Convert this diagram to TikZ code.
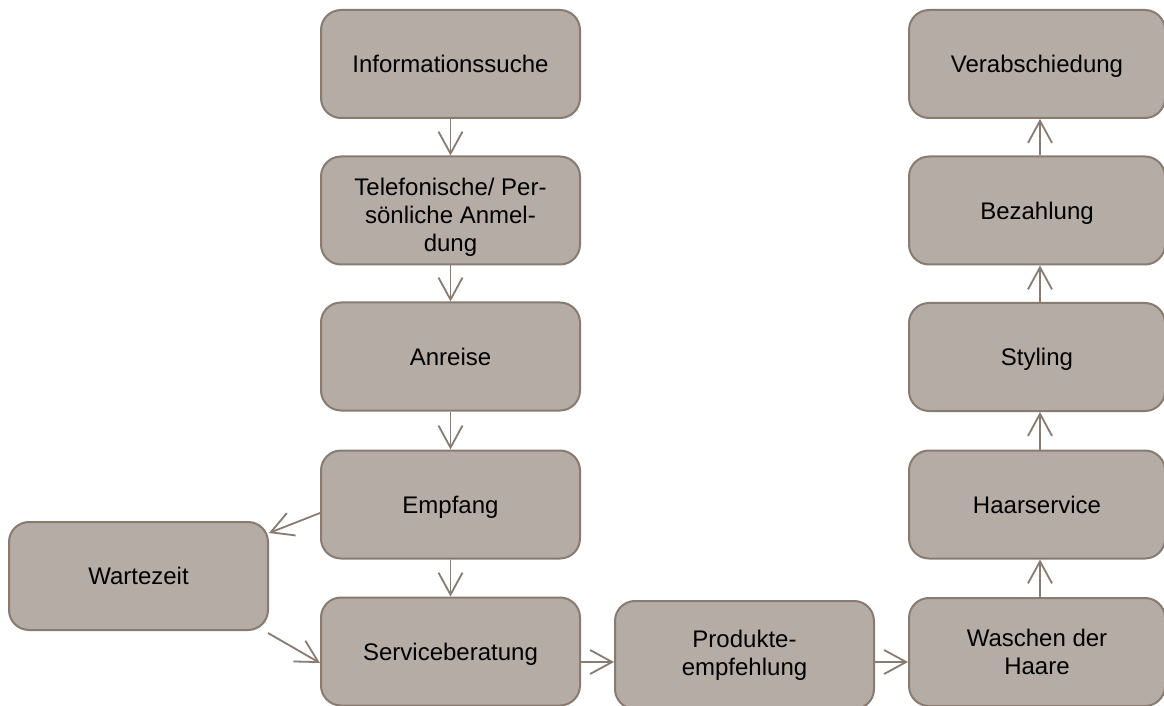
\documentclass[tikz,border=0pt]{standalone}
\usepackage{fontspec}
\setmainfont{Liberation Sans}
\usetikzlibrary{arrows.meta,calc}
\definecolor{boxfill}{HTML}{B5ACA5}
\definecolor{boxline}{HTML}{877B72}
\tikzset{
  stepbox/.style={draw=boxline, line width=1pt, fill=boxfill, rounded corners=10pt,
    minimum width=129.5pt, minimum height=54pt, inner sep=0pt, align=center,
    font=\fontsize{12pt}{14pt}\selectfont, text=black},
  oneline/.style={stepbox, text height=8.6pt, text depth=0pt},
  flow/.style={draw=boxline, line width=0.9pt,
    -{Straight Barb[length=11pt,width=12pt,line width=0.9pt]}},
}
\begin{document}
\begin{tikzpicture}[x=0.5pt,y=-0.5pt]
\path[use as bounding box] (0,0) rectangle (1164,706);
\clip (0,0) rectangle (1164,706);
% left column
\node[oneline] (info) at (450.5,64) {Informationssuche};
\node[stepbox] (tel) at (450.5,210.5) {\rule{0pt}{15pt}Telefonische/ Per-\\sönliche Anmel-\\dung};
\node[oneline] (anr) at (450.5,356.5) {Anreise};
\node[oneline] (emp) at (450.5,504.5) {Empfang};
\node[oneline] (sv) at (450.5,651.5) {Serviceberatung};
\node[oneline] (wz) at (138.5,576) {Wartezeit};
\node[stepbox] (pe) at (744.5,655) {Produkte-\\empfehlung};
% right column
\node[oneline, minimum width=128pt] (ver) at (1037,64) {Verabschiedung};
\node[oneline, minimum width=128pt] (bez) at (1037,210.5) {Bezahlung};
\node[oneline, minimum width=128pt] (sty) at (1037,357) {Styling};
\node[oneline, minimum width=128pt] (haa) at (1037,504.5) {Haarservice};
\node[stepbox, minimum width=128pt] (wa) at (1037,652) {Waschen der\\Haare};
% connectors
\draw[flow] (info.south) -- (tel.north);
\draw[flow] (tel.south) -- (anr.north);
\draw[flow] (anr.south) -- (emp.north);
\draw[flow] (emp.south) -- (sv.north);
\draw[flow] ($(emp.west)+(0,8.5)$) -- ($(wz.north east)+(0,12)$);
\draw[flow] ($(wz.south east)+(-1,2)$) -- ($(sv.west)+(0,11.5)$);
\draw[flow] ($(sv.east)+(0,10.5)$) -- ($(pe.west)+(0,7)$);
\draw[flow] ($(pe.east)+(0,7)$) -- ($(wa.west)+(0,10)$);
\draw[flow] ([xshift=1.5pt]wa.north) -- ([xshift=1.5pt]haa.south);
\draw[flow] ([xshift=1.5pt]haa.north) -- ([xshift=1.5pt]sty.south);
\draw[flow] ([xshift=1.5pt]sty.north) -- ([xshift=1.5pt]bez.south);
\draw[flow] ([xshift=1.5pt]bez.north) -- ([xshift=1.5pt]ver.south);
\end{tikzpicture}
\end{document}
